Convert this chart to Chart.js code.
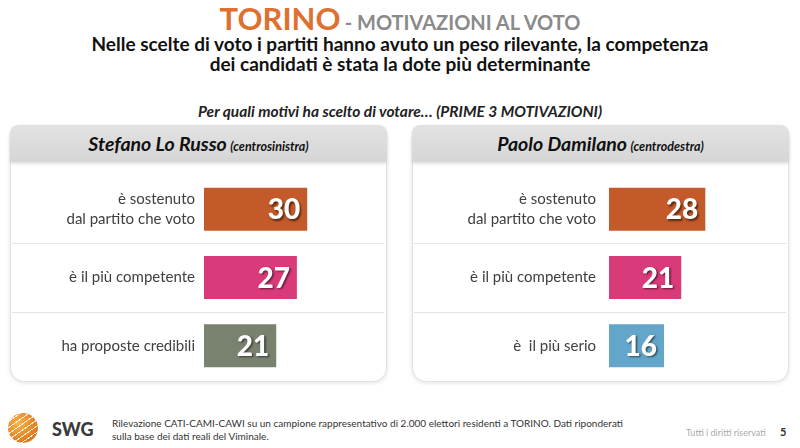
<!DOCTYPE html>
<html>
<head>
<meta charset="utf-8">
<script src="https://cdn.jsdelivr.net/npm/chart.js@4"></script>
<style>
  body{margin:0;width:800px;height:448px;background:#fff;font-family:Lato,"Open Sans",sans-serif;position:relative;overflow:hidden}
  .abs{position:absolute}
  #title{left:0;width:800px;top:-1px;text-align:center;white-space:nowrap}
  #title .city{color:#E07030;font-weight:700;font-size:31px}
  #title .rest{color:#8a8a8a;font-weight:700;font-size:20px}
  #sub{left:0;width:800px;top:34px;text-align:center;font-weight:700;font-size:19px;line-height:20px;color:#111}
  #question{left:0;width:800px;top:102px;text-align:center;font-weight:700;font-style:italic;font-size:15.5px;color:#222}
  .panel{background:#fff;border:1px solid #e2e2e2;border-radius:14px;box-shadow:0 1px 4px rgba(0,0,0,0.12)}
  .head{background:linear-gradient(#e2e2e2,#d6d6d6);border-radius:8px 8px 2px 2px;box-shadow:0 2px 3px rgba(0,0,0,0.12);text-align:center;font-weight:700;font-style:italic;color:#111;line-height:37px;white-space:nowrap}
  .head .nm{font-size:19.5px}
  .head .pt{font-size:12.5px}
  #foot{left:112px;top:417px;font-size:10px;line-height:13px;color:#333}
  #rights{left:686px;top:427px;font-size:9px;color:#aaa}
  #page{left:780px;top:425px;font-size:11px;font-weight:700;color:#333}
  #logo{left:8px;top:413px;width:30px;height:30px;border-radius:50%;
    background:repeating-linear-gradient(-35deg,rgba(255,255,255,0.0) 0 4px,rgba(255,255,255,0.85) 4px 5px),radial-gradient(circle at 35% 35%,#f8b34a,#e07a1c 70%,#c9650f)}
  #swg{left:52px;top:418px;font-size:18px;font-weight:900;color:#3a3a3a}
</style>
</head>
<body>
<div id="title" class="abs"><span class="city">TORINO</span> <span class="rest">- MOTIVAZIONI AL VOTO</span></div>
<div id="sub" class="abs">Nelle scelte di voto i partiti hanno avuto un peso rilevante, la competenza<br>dei candidati è stata la dote più determinante</div>
<div id="question" class="abs">Per quali motivi ha scelto di votare… (PRIME 3 MOTIVAZIONI)</div>

<div class="abs panel" style="left:10px;top:125px;width:375px;height:255px"></div>
<div class="abs head" style="left:10px;top:125px;width:377px;height:37px"><span class="nm">Stefano Lo Russo</span> <span class="pt">(centrosinistra)</span></div>
<div class="abs panel" style="left:412px;top:125px;width:375px;height:255px"></div>
<div class="abs head" style="left:412px;top:125px;width:377px;height:37px"><span class="nm">Paolo Damilano</span> <span class="pt">(centrodestra)</span></div>

<canvas id="left" class="abs" width="376" height="205" style="left:10px;top:175px"></canvas>
<canvas id="right" class="abs" width="376" height="205" style="left:412px;top:175px"></canvas>

<div id="logo" class="abs"></div>
<div id="swg" class="abs">SWG</div>
<div id="foot" class="abs">Rilevazione CATI-CAMI-CAWI su un campione rappresentativo di 2.000 elettori residenti a TORINO. Dati riponderati<br>sulla base dei dati reali del Viminale.</div>
<div id="rights" class="abs">Tutti i diritti riservati</div>
<div id="page" class="abs">5</div>

<script>
// -------- DATA --------
const leftCategories = [["è sostenuto","dal partito che voto"], "è il più competente", "ha proposte credibili"];
const leftValues = [30, 27, 21];
const rightCategories = [["è sostenuto","dal partito che voto"], "è il più competente", "è  il più serio"];
const rightValues = [28, 21, 16];

const leftColors = ["#C45A29", "#D93A79", "#78826F"];
const rightColors = ["#C45A29", "#D93A79", "#63A6C9"];

// lines between the rows, across the whole panel
const dividers = {
  id:"dividers",
  beforeDatasetsDraw(chart){
    const y = chart.scales.y, ctx = chart.ctx;
    ctx.save();
    ctx.strokeStyle = "#e3e3e3";
    ctx.lineWidth = 1;
    for(let i=0;i<y.ticks.length-1;i++){
      const yy = Math.round((y.getPixelForValue(i)+y.getPixelForValue(i+1))/2)+0.5;
      ctx.beginPath();
      ctx.moveTo(2,yy);
      ctx.lineTo(chart.width-2,yy);
      ctx.stroke();
    }
    ctx.restore();
  }
};

// numbers written inside the bars
const valueLabels = {
  id:"valueLabels",
  afterDatasetsDraw(chart){
    const ctx = chart.ctx;
    const data = chart.data.datasets[0].data;
    ctx.save();
    ctx.font = "900 28px Lato";
    ctx.textAlign = "right";
    ctx.textBaseline = "middle";
    ctx.fillStyle = "#fff";
    ctx.shadowColor = "rgba(0,0,0,0.55)";
    ctx.shadowOffsetX = 1.5;
    ctx.shadowOffsetY = 1.5;
    ctx.shadowBlur = 2;
    chart.getDatasetMeta(0).data.forEach((bar,i)=>{
      ctx.fillText(data[i], bar.x-7, bar.y+1);
    });
    ctx.restore();
  }
};

function makeChart(id, labels, values, colors, axisWidth, labelPad, padRight){
  return new Chart(document.getElementById(id),{
    type:"bar",
    data:{
      labels,
      datasets:[{data:values, backgroundColor:colors, barPercentage:0.63, categoryPercentage:1}]
    },
    options:{
      indexAxis:"y",
      responsive:false,
      animation:false,
      layout:{padding:{left:0,right:padRight,top:0,bottom:0}},
      plugins:{legend:{display:false}, tooltip:{enabled:false}},
      scales:{
        x:{display:false, min:0, max:50},
        y:{
          grid:{display:false, drawTicks:false},
          border:{display:false},
          ticks:{color:"#404040", font:{family:"Lato", size:15, lineHeight:1.27}, padding:labelPad},
          afterFit(scale){
            scale.width = axisWidth;
            scale.paddingTop = 0;
            scale.paddingBottom = 0;
          }
        }
      }
    },
    plugins:[dividers, valueLabels]
  });
}

makeChart("left", leftCategories, leftValues, leftColors, 194, 9, 10);
makeChart("right", rightCategories, rightValues, rightColors, 197, 13, 7);
</script>
</body>
</html>
